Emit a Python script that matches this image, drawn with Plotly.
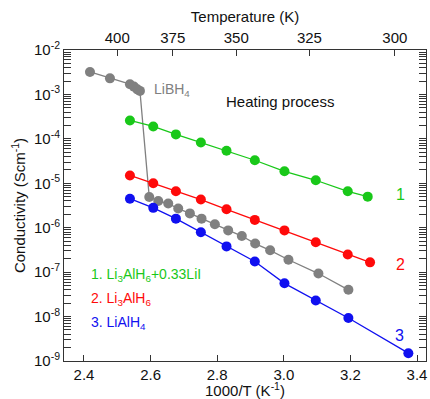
import plotly.graph_objects as go

# 1000/T (K^-1) and conductivity (S/cm)
libh4_x = [2.418, 2.478, 2.538, 2.550, 2.560, 2.568, 2.596, 2.623, 2.653, 2.683, 2.718,
           2.753, 2.793, 2.833, 2.874, 2.914, 2.959, 3.014, 3.104, 3.194]
libh4_y = [3.2e-3, 2.3e-3, 1.7e-3, 1.5e-3, 1.3e-3, 1.2e-3, 4.9e-6, 4.0e-6, 3.5e-6, 2.7e-6,
           2.1e-6, 1.6e-6, 1.2e-6, 8.7e-7, 6.5e-7, 4.4e-7, 3.1e-7, 1.9e-7, 9.3e-8, 4.0e-8]

s1_x = [2.538, 2.608, 2.676, 2.751, 2.828, 2.913, 3.002, 3.096, 3.192, 3.252]
s1_y = [2.6e-4, 1.9e-4, 1.26e-4, 8.3e-5, 5.4e-5, 3.3e-5, 1.86e-5, 1.17e-5, 6.6e-6, 5.0e-6]

s2_x = [2.538, 2.608, 2.676, 2.751, 2.828, 2.913, 3.002, 3.096, 3.192, 3.259]
s2_y = [1.5e-5, 1.0e-5, 6.6e-6, 4.3e-6, 2.6e-6, 1.5e-6, 8.7e-7, 4.7e-7, 2.5e-7, 1.66e-7]

s3_x = [2.538, 2.608, 2.676, 2.751, 2.828, 2.913, 3.002, 3.096, 3.194, 3.374]
s3_y = [4.5e-6, 2.8e-6, 1.6e-6, 7.9e-7, 3.8e-7, 1.74e-7, 5.6e-8, 2.3e-8, 9.3e-9, 1.5e-9]

x_ticks = [2.4, 2.6, 2.8, 3.0, 3.2, 3.4]
temp_ticks = [400, 375, 350, 325, 300]
y_tickvals = [1e-2, 1e-3, 1e-4, 1e-5, 1e-6, 1e-7, 1e-8, 1e-9]
y_ticktext = ["10<sup>-2</sup>", "10<sup>-3</sup>", "10<sup>-4</sup>", "10<sup>-5</sup>",
              "10<sup>-6</sup>", "10<sup>-7</sup>", "10<sup>-8</sup>", "10<sup>-9</sup>"]

GRAY = "#808080"
GREEN = "#19c819"
RED = "#ff0a0a"
BLUE = "#1010f0"
FONT = "Liberation Sans, Arial, sans-serif"

XR = [2.340, 3.427]

fig = go.Figure()
for xs, ys, c in [(libh4_x, libh4_y, GRAY), (s1_x, s1_y, GREEN), (s2_x, s2_y, RED), (s3_x, s3_y, BLUE)]:
    fig.add_trace(go.Scatter(x=xs, y=ys, mode="lines+markers",
                             line=dict(color=c, width=1.3),
                             marker=dict(color=c, size=10),
                             showlegend=False))

# invisible trace for the top axis
fig.add_trace(go.Scatter(x=[1000 / t for t in temp_ticks], y=[1e-5] * len(temp_ticks),
                         xaxis="x2", mode="markers", marker=dict(opacity=0),
                         showlegend=False, hoverinfo="skip"))

axis_common = dict(showline=True, linecolor="#333", linewidth=1, showgrid=False, zeroline=False,
                   tickfont=dict(family=FONT, size=15, color="#111"), ticks="inside",
                   tickcolor="#333", automargin=False)
title_font = dict(family=FONT, size=15, color="#111")

fig.update_layout(
    width=430, height=399,
    margin=dict(l=64, r=4, t=50, b=38),
    plot_bgcolor="white", paper_bgcolor="white",
    font=dict(family=FONT, color="#111"),
    xaxis=dict(range=XR, tickvals=x_ticks, ticktext=[f"{v:.1f}" for v in x_ticks],
               ticklen=6, mirror=False,
               title=dict(text="1000/T (K<sup>-1</sup>)", font=title_font, standoff=4),
               **axis_common),
    xaxis2=dict(range=XR, overlaying="x", side="top", anchor="y",
                tickvals=[1000 / t for t in temp_ticks], ticktext=[str(t) for t in temp_ticks],
                ticklen=6,
                title=dict(text="Temperature (K)", font=title_font, standoff=2),
                **axis_common),
    yaxis=dict(type="log", range=[-9, -2], tickvals=y_tickvals, ticktext=y_ticktext,
               ticklen=7, mirror="allticks",
               minor=dict(ticks="inside", ticklen=4, tickcolor="#333",
                          tickvals=[m * 10 ** e for e in range(-9, -2) for m in range(2, 10)]),
               title=dict(text="Conductivity (Scm<sup>-1</sup>)", font=title_font, standoff=4),
               **axis_common),
)


def px(xp, yp):
    return (xp - 64) / 362, (361 - yp) / 311


annots = [
    ("LiBH<sub>4</sub>", 152, 90, GRAY, "left", 14),
    ("Heating process", 224, 101, "#111", "left", 15),
    ("1", 400, 194, GREEN, "center", 16),
    ("2", 400, 264, RED, "center", 16),
    ("3", 399, 335, BLUE, "center", 16),
    ("1. Li<sub>3</sub>AlH<sub>6</sub>+0.33LiI", 89, 275, GREEN, "left", 14),
    ("2. Li<sub>3</sub>AlH<sub>6</sub>", 89, 299, RED, "left", 14),
    ("3. LiAlH<sub>4</sub>", 89, 323, BLUE, "left", 14),
]
for text, xp, yp, c, anchor, size in annots:
    fx, fy = px(xp, yp)
    fig.add_annotation(x=fx, y=fy, xref="paper", yref="paper", text=text, showarrow=False,
                       xanchor=anchor, yanchor="middle",
                       font=dict(family=FONT, size=size, color=c))

fig.write_html("out.html", config={"displayModeBar": False},
               post_script="document.body.style.margin='0';")
